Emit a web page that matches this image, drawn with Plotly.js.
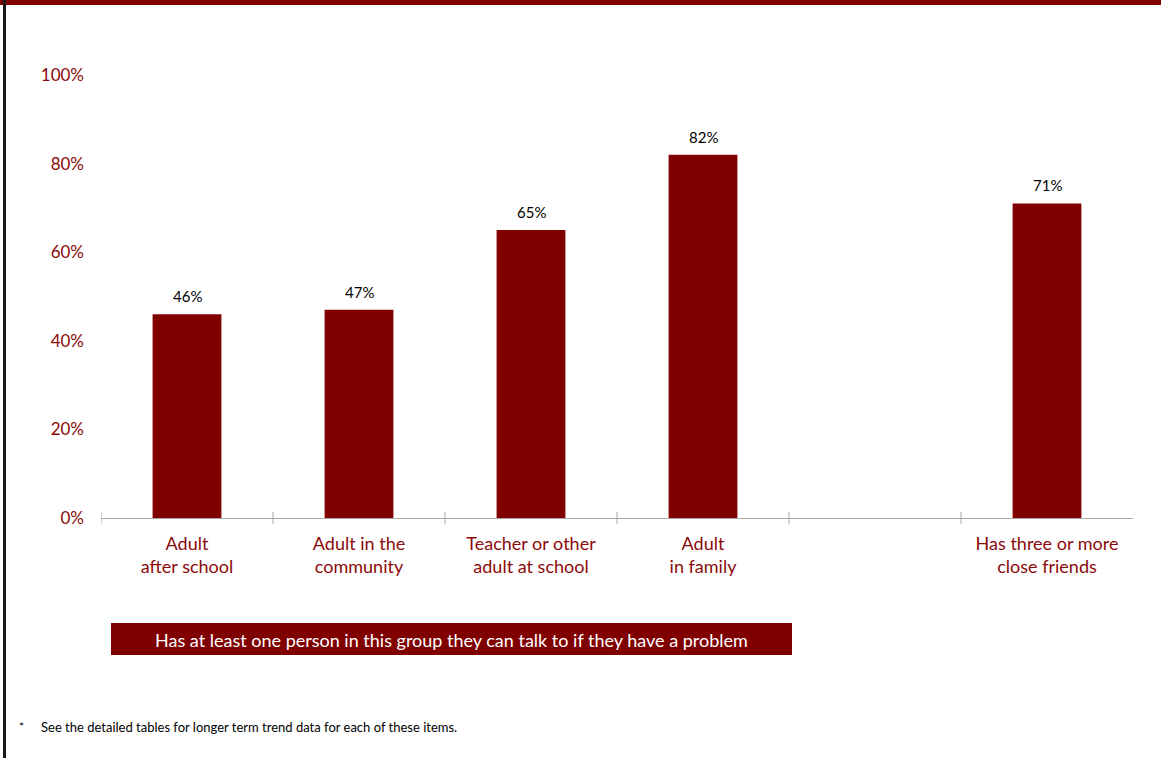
<!DOCTYPE html>
<html>
<head>
<meta charset="utf-8">
<script src="https://cdn.plot.ly/plotly-3.0.1.min.js"></script>
<style>
  html, body { margin: 0; padding: 0; background: #fff; }
  #chart { width: 1161px; height: 758px; }
</style>
</head>
<body>
<div id="chart"></div>
<script>
const categories = ["Adult<br>after school", "Adult in the<br>community", "Teacher or other<br>adult at school", "Adult<br>in family", " ", "Has three or more<br>close friends"];
const values = [46, 47, 65, 82, null, 71];
const valueLabels = ["46%", "47%", "65%", "82%", "", "71%"];
const yTickVals = [0, 20, 40, 60, 80, 100];
const yTickText = ["0%", "20%", "40%", "60%", "80%", "100%"];
const groupLabel = "Has at least one person in this group they can talk to if they have a problem";
const footnote = "See the detailed tables for longer term trend data for each of these items.";

const red = "#800000";
const textRed = "#8b0a0a";
const font = "Lato, 'Open Sans', sans-serif";

// Tick marks at category boundaries (library category index coordinates)
const tickShapes = categories.map((c, i) => ({
  type: "line", xref: "x", yref: "paper",
  x0: i - 0.5, x1: i - 0.5, y0: -0.0135, y1: 0.0135,
  line: { color: "#a6a6a6", width: 1 }
}));

// Value labels above bars, placed via data coordinates
const valueAnnotations = categories.map((c, i) => values[i] == null ? null : ({
  xref: "x", yref: "y", x: c, y: values[i], text: valueLabels[i],
  showarrow: false, yanchor: "middle", yshift: 18,
  font: { family: font, size: 15, color: "#000" }
})).filter(a => a);

const trace = {
  type: "bar",
  x: categories,
  y: values,
  marker: { color: red },
  width: 0.4,
  hoverinfo: "skip"
};

const layout = {
  width: 1161, height: 758,
  margin: { l: 101, r: 28, t: 75, b: 240 },
  paper_bgcolor: "#fff", plot_bgcolor: "#fff",
  showlegend: false,
  font: { family: font, color: textRed },
  xaxis: {
    type: "category",
    range: [-0.5, 5.5],
    showline: true, linecolor: "#a6a6a6", linewidth: 1,
    showgrid: false, zeroline: false,
    ticks: "",
    ticklabelstandoff: 9,
    tickfont: { family: font, size: 18, color: textRed },
    fixedrange: true
  },
  yaxis: {
    range: [0, 100],
    tickvals: yTickVals, ticktext: yTickText,
    showgrid: false, zeroline: false, showline: false,
    ticks: "",
    ticklabelstandoff: 16,
    tickfont: { family: font, size: 17, color: textRed },
    fixedrange: true
  },
  shapes: [
    { type: "rect", xref: "paper", yref: "paper", x0: -0.2, x1: 1.2, y0: 1.158, y1: 1.3, fillcolor: red, line: { width: 0 } },
    { type: "line", xref: "paper", yref: "paper", x0: -0.0935, x1: -0.0935, y0: -0.6, y1: 1.2, line: { color: "#1a1a1a", width: 3 } },
    { type: "rect", xref: "paper", yref: "paper", x0: (111 - 101) / 1032, x1: (792 - 101) / 1032, y0: (518 - 655) / 443, y1: (518 - 623) / 443, fillcolor: red, line: { width: 0 } }
  ].concat(tickShapes),
  annotations: [
    { xref: "paper", yref: "paper", x: (451 - 101) / 1032, y: (518 - 639.5) / 443, text: groupLabel, showarrow: false, font: { family: font, size: 18, color: "#fff" }, xanchor: "center", yanchor: "middle" },
    { xref: "paper", yref: "paper", x: (17 - 101) / 1032, y: (518 - 727) / 443, text: "*", showarrow: false, font: { family: font, size: 12, color: "#000" }, xanchor: "left", yanchor: "middle" },
    { xref: "paper", yref: "paper", x: (39 - 101) / 1032, y: (518 - 727) / 443, text: footnote, showarrow: false, font: { family: font, size: 13, color: "#000" }, xanchor: "left", yanchor: "middle" }
  ].concat(valueAnnotations)
};

Plotly.newPlot("chart", [trace], layout, { displayModeBar: false, staticPlot: true });
</script>
</body>
</html>
